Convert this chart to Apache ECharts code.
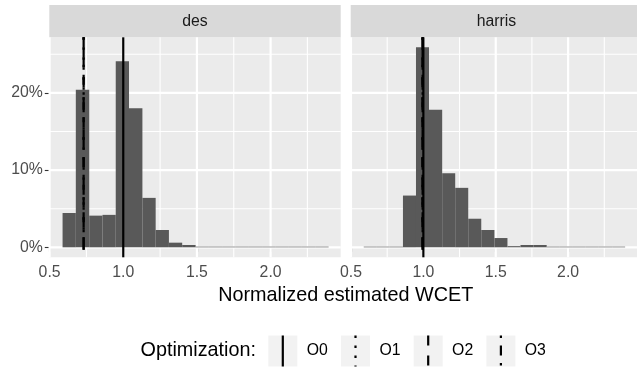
<!DOCTYPE html>
<html><head><meta charset="utf-8">
<script src="https://cdn.jsdelivr.net/npm/echarts@6/dist/echarts.min.js"></script>
<style>html,body{margin:0;padding:0;background:#fff}#c{width:637px;height:370px}</style>
</head><body><div id="c"></div>
<script>
// ---- data ----
const panels = ['des', 'harris'];
const binEdges = [0.588, 0.678, 0.769, 0.859, 0.949, 1.039, 1.130, 1.220, 1.310, 1.400, 1.491,
                  1.581, 1.671, 1.762, 1.852, 1.942, 2.033, 2.123, 2.213, 2.304, 2.394];
const desPct = [4.44, 20.4, 4.1, 4.2, 24.1, 18.0, 6.4, 2.24, 0.6, 0.3,
                0.08, 0.08, 0.08, 0.08, 0.08, 0.08, 0.08, 0.08, 0.08, 0.08];
const harrisPct = [0.08, 0.08, 0.08, 6.7, 25.9, 17.8, 9.6, 7.7, 3.7, 2.24,
                   1.2, 0.15, 0.3, 0.3, 0.08, 0.08, 0.08, 0.08, 0.08, 0.08];
const optLevels = ['O0', 'O1', 'O2', 'O3'];
const desVlines = [1.0, 0.731, 0.731, 0.731];
const harrisVlines = [1.0, 0.995, 0.993, 0.995];
const xTicks = [0.5, 1.0, 1.5, 2.0];
const xMinor = [0.75, 1.25, 1.75, 2.25];
const yTicks = [0, 10, 20];
const yMinor = [5, 15, 25];

// ---- styles ----
const FONT = '"Liberation Sans", Arial, Helvetica, sans-serif';
const dashes = [null, [2.5, 7.5], [10, 10], [2.5, 7.5, 10, 7.5]];
const LW = 2.2;

const chart = echarts.init(document.getElementById('c'), null, {renderer: 'canvas'});

const gridDefs = [
  {left: 49.3, top: 37.3, width: 291.4, height: 220},
  {left: 350.7, top: 37.3, width: 291.4, height: 220}
];

function gridLineItem(params, api) {
  const cs = params.coordSys;
  const v = api.value(0), isX = api.value(1), major = api.value(2);
  let shape;
  if (isX) {
    const p = api.coord([v, 0]);
    shape = {x1: p[0], y1: cs.y, x2: p[0], y2: cs.y + cs.height};
  } else {
    const p = api.coord([0.6, v]);
    shape = {x1: cs.x, y1: p[1], x2: cs.x + cs.width, y2: p[1]};
  }
  return {type: 'line', shape: shape, style: {stroke: '#ffffff', lineWidth: major ? 2.2 : 1.1}};
}
function barItem(params, api) {
  const p0 = api.coord([api.value(0), api.value(2)]);
  const p1 = api.coord([api.value(1), 0]);
  return {type: 'rect', shape: {x: p0[0], y: p0[1], width: p1[0] - p0[0], height: p1[1] - p0[1]},
          style: {fill: '#595959'}};
}
function vlineItem(params, api) {
  const cs = params.coordSys;
  const p = api.coord([api.value(0), 0]);
  const k = api.value(1);
  return {type: 'line', shape: {x1: p[0], y1: cs.y, x2: p[0], y2: cs.y + cs.height},
          style: {stroke: '#000000', lineWidth: LW, lineDash: dashes[k], lineCap: 'butt'}};
}

const gridData = [];
xTicks.forEach(v => gridData.push([v, 1, 1]));
xMinor.forEach(v => gridData.push([v, 1, 0]));
yTicks.forEach(v => gridData.push([v, 0, 1]));
yMinor.forEach(v => gridData.push([v, 0, 0]));

const pctSets = [desPct, harrisPct];
const vlineSets = [desVlines, harrisVlines];

const series = [];
panels.forEach((name, i) => {
  series.push({type: 'custom', name: name + '-grid', xAxisIndex: i, yAxisIndex: i, z: 1, silent: true,
    renderItem: gridLineItem, data: gridData, animation: false});
  series.push({type: 'custom', name: name, xAxisIndex: i, yAxisIndex: i, z: 2, silent: true,
    renderItem: barItem, animation: false,
    data: pctSets[i].map((v, j) => [binEdges[j], binEdges[j + 1], v])});
  series.push({type: 'custom', name: name + '-opt', xAxisIndex: i, yAxisIndex: i, z: 3, silent: true,
    renderItem: vlineItem, animation: false,
    data: vlineSets[i].map((v, k) => [v, k]).reverse()});
});

const xAxes = gridDefs.map((g, i) => ({
  type: 'value', gridIndex: i, min: 0.498, max: 2.476,
  splitLine: {show: false}, axisLine: {show: false},
  axisTick: {show: true, customValues: xTicks, length: 4.5, lineStyle: {color: '#333333', width: 1.1}},
  axisLabel: {show: true, customValues: xTicks, formatter: v => v.toFixed(1), color: '#4d4d4d',
    fontSize: 15.8, fontFamily: FONT, margin: 7}
}));
const yAxes = gridDefs.map((g, i) => ({
  type: 'value', gridIndex: i, min: -1.295, max: 27.195,
  splitLine: {show: false}, axisLine: {show: false},
  axisTick: {show: i === 0, customValues: yTicks, length: 4.5, lineStyle: {color: '#333333', width: 1.1}},
  axisLabel: {show: i === 0, customValues: yTicks, formatter: v => v + '%', color: '#4d4d4d',
    fontSize: 15.8, fontFamily: FONT, margin: 6.5}
}));

// legend drawn as graphic
const legendX = [268.3, 341, 413.7, 486.4];
const graphic = [];
panels.forEach((name, i) => {
  const g = gridDefs[i];
  graphic.push({type: 'rect', left: g.left, top: 5, shape: {width: g.width, height: 32.3},
    style: {fill: '#d9d9d9'}, silent: true});
  graphic.push({type: 'text', x: g.left + g.width / 2, y: 21.5,
    style: {text: name, fill: '#1a1a1a', font: '15.8px ' + FONT, textAlign: 'center', textVerticalAlign: 'middle'}});
});
graphic.push({type: 'text', x: 345.7, y: 296,
  style: {text: 'Normalized estimated WCET', fill: '#000000', font: '19.8px ' + FONT,
    textAlign: 'center', textVerticalAlign: 'middle'}});
graphic.push({type: 'text', x: 256, y: 351,
  style: {text: 'Optimization:', fill: '#000000', font: '19.8px ' + FONT,
    textAlign: 'right', textVerticalAlign: 'middle'}});
optLevels.forEach((lv, k) => {
  const x = legendX[k];
  graphic.push({type: 'rect', x: x, y: 335.5, shape: {width: 29, height: 31}, style: {fill: '#f2f2f2'}});
  graphic.push({type: 'line', shape: {x1: x + 14.5, y1: 335.5, x2: x + 14.5, y2: 366.5},
    style: {stroke: '#000', lineWidth: LW, lineDash: dashes[k], lineCap: 'butt'}});
  graphic.push({type: 'text', x: x + 38.4, y: 351,
    style: {text: lv, fill: '#000000', font: '15.8px ' + FONT, textAlign: 'left', textVerticalAlign: 'middle'}});
});

chart.setOption({
  animation: false,
  backgroundColor: '#ffffff',
  grid: gridDefs.map(g => Object.assign({show: true, backgroundColor: '#ebebeb', borderWidth: 0}, g)),
  xAxis: xAxes,
  yAxis: yAxes,
  series: series,
  graphic: graphic
});
</script>
</body></html>
